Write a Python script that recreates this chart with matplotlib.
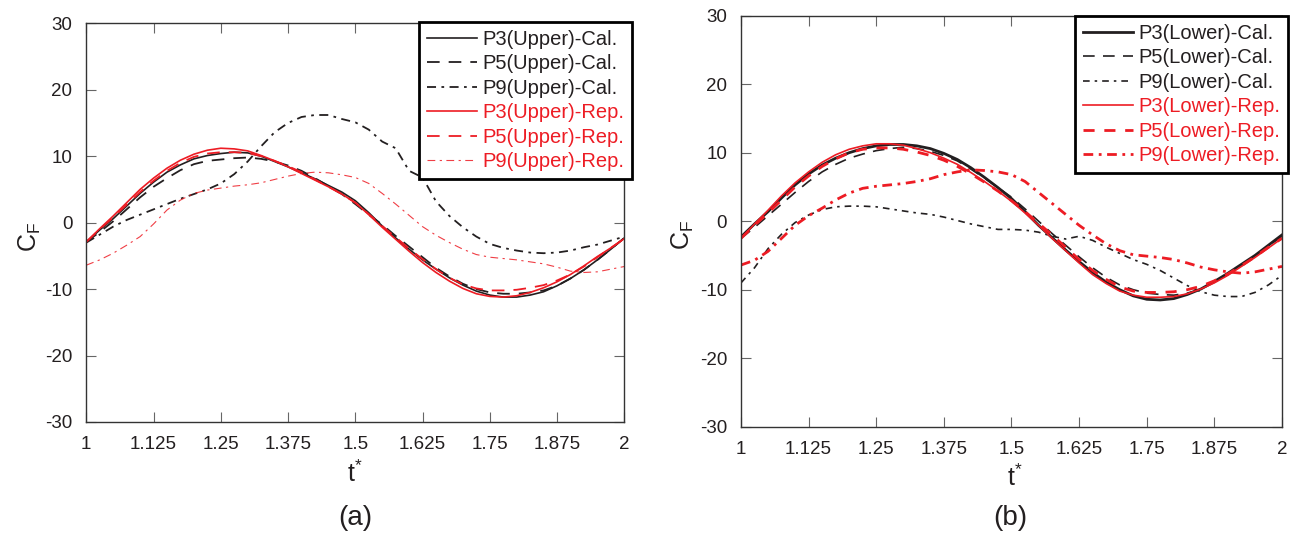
import numpy as np
import matplotlib
matplotlib.use("Agg")
import matplotlib.pyplot as plt

plt.rcParams['font.family'] = ['Liberation Sans', 'DejaVu Sans']
plt.rcParams['mathtext.fontset'] = 'custom'
plt.rcParams['mathtext.rm'] = 'Liberation Sans'
plt.rcParams['mathtext.it'] = 'Liberation Sans'
plt.rcParams['axes.unicode_minus'] = False

# ---------------- data ----------------
t = [1.000, 1.025, 1.050, 1.075, 1.100, 1.125, 1.150, 1.175, 1.200, 1.225,
     1.250, 1.275, 1.300, 1.325, 1.350, 1.375, 1.400, 1.425, 1.450, 1.475,
     1.500, 1.525, 1.550, 1.575, 1.600, 1.625, 1.650, 1.675, 1.700, 1.725,
     1.750, 1.775, 1.800, 1.825, 1.850, 1.875, 1.900, 1.925, 1.950, 1.975, 2.000]

# panel (a) - upper
a_p3_cal = [-2.9, -1.1, 0.6, 2.5, 4.4, 6.1, 7.6, 8.7, 9.6, 10.1,
            10.4, 10.6, 10.5, 10.0, 9.2, 8.4, 7.5, 6.6, 5.6, 4.6,
            3.3, 1.5, -0.5, -2.3, -4.0, -5.6, -7.0, -8.3, -9.4, -10.3,
            -10.9, -11.2, -11.2, -10.9, -10.4, -9.5, -8.4, -7.1, -5.6, -4.0, -2.3]
a_p5_cal = [-2.9, -1.4, 0.2, 2.0, 3.8, 5.4, 6.7, 7.9, 8.8, 9.3,
            9.5, 9.7, 9.8, 9.6, 9.2, 8.6, 7.8, 6.7, 5.5, 4.3,
            2.8, 1.2, -0.3, -2.0, -3.6, -5.2, -6.8, -8.1, -9.2, -10.0,
            -10.5, -10.7, -10.7, -10.5, -10.2, -9.5, -8.4, -7.1, -5.6, -4.0, -2.3]
a_p9_cal = [-3.0, -1.8, -0.6, 0.4, 1.2, 2.0, 2.8, 3.6, 4.3, 5.0,
            5.9, 7.3, 9.2, 11.5, 13.6, 15.0, 15.9, 16.2, 16.2, 15.6,
            15.1, 14.0, 12.2, 11.2, 7.8, 6.8, 3.2, 1.0, -0.7, -2.1,
            -3.2, -3.8, -4.2, -4.5, -4.6, -4.5, -4.2, -3.7, -3.3, -2.7, -2.1]
a_p3_rep = [-2.9, -0.9, 1.0, 3.0, 5.0, 6.7, 8.2, 9.4, 10.3, 10.9,
            11.2, 11.1, 10.8, 10.1, 9.3, 8.4, 7.4, 6.4, 5.4, 4.3,
            3.0, 1.2, -0.7, -2.5, -4.3, -6.0, -7.5, -8.8, -9.9, -10.7,
            -11.1, -11.2, -11.0, -10.5, -9.8, -8.9, -7.8, -6.5, -5.1, -3.8, -2.4]
a_p5_rep = [-2.9, -1.0, 0.8, 2.7, 4.6, 6.3, 7.8, 9.0, 9.9, 10.4,
            10.6, 10.6, 10.5, 10.0, 9.3, 8.5, 7.6, 6.5, 5.4, 4.3,
            3.0, 1.3, -0.5, -2.2, -3.9, -5.5, -7.0, -8.3, -9.3, -9.9,
            -10.2, -10.2, -10.1, -9.8, -9.4, -8.7, -7.8, -6.6, -5.2, -3.8, -2.4]
a_p9_rep = [-6.4, -5.6, -4.6, -3.4, -2.1, -0.2, 1.9, 3.4, 4.4, 4.9,
            5.2, 5.5, 5.7, 6.0, 6.5, 7.0, 7.4, 7.6, 7.5, 7.2,
            6.8, 5.9, 4.4, 2.8, 1.1, -0.6, -1.9, -3.0, -4.0, -4.8,
            -5.2, -5.4, -5.6, -5.9, -6.2, -6.7, -7.3, -7.5, -7.4, -7.0, -6.6]

# panel (b) - lower
b_p3_cal = [-2.3, -0.4, 1.4, 3.4, 5.3, 6.9, 8.2, 9.2, 10.0, 10.6,
            11.0, 11.2, 11.2, 11.0, 10.6, 9.9, 9.0, 7.8, 6.4, 4.9,
            3.3, 1.4, -0.6, -2.4, -4.2, -5.9, -7.5, -8.9, -10.0, -10.9,
            -11.4, -11.5, -11.3, -10.7, -9.9, -8.8, -7.6, -6.3, -5.0, -3.5, -2.0]
b_p5_cal = [-2.5, -0.9, 0.8, 2.5, 4.2, 5.8, 7.2, 8.3, 9.2, 9.8,
            10.3, 10.6, 10.8, 10.6, 10.2, 9.6, 8.8, 7.6, 6.3, 4.9,
            3.5, 1.8, 0.0, -1.8, -3.5, -5.2, -6.8, -8.2, -9.3, -10.0,
            -10.5, -10.7, -10.8, -10.5, -9.9, -8.9, -7.8, -6.5, -5.1, -3.6, -2.2]
b_p9_cal = [-9.0, -6.8, -4.0, -1.9, -0.2, 0.9, 1.7, 2.1, 2.2, 2.2,
            2.1, 1.8, 1.5, 1.2, 1.0, 0.6, 0.1, -0.4, -0.8, -1.2,
            -1.2, -1.3, -1.6, -2.2, -2.6, -2.2, -2.8, -3.8, -4.7, -5.6,
            -6.3, -7.2, -8.3, -9.4, -10.3, -10.8, -11.0, -11.0, -10.4, -9.3, -7.9]
b_p3_rep = [-2.5, -0.4, 1.6, 3.7, 5.6, 7.2, 8.6, 9.7, 10.5, 11.0,
            11.3, 11.3, 11.1, 10.6, 10.0, 9.2, 8.3, 7.1, 5.8, 4.4,
            2.9, 1.2, -0.6, -2.5, -4.3, -6.1, -7.8, -9.1, -10.2, -10.8,
            -11.1, -11.1, -11.0, -10.6, -9.9, -9.0, -7.9, -6.6, -5.3, -3.9, -2.5]
b_p5_rep = [-2.5, -0.6, 1.2, 3.1, 5.0, 6.6, 8.0, 9.1, 10.0, 10.5,
            10.7, 10.7, 10.5, 10.1, 9.6, 8.9, 8.0, 6.9, 5.7, 4.4,
            3.0, 1.4, -0.3, -2.0, -3.8, -5.6, -7.2, -8.5, -9.6, -10.2,
            -10.4, -10.4, -10.3, -10.0, -9.5, -8.7, -7.7, -6.5, -5.2, -3.8, -2.5]
b_p9_rep = [-6.4, -5.7, -4.4, -2.5, -0.6, 0.8, 1.9, 3.1, 4.1, 4.8,
            5.1, 5.3, 5.5, 5.8, 6.2, 6.8, 7.2, 7.5, 7.4, 7.2,
            6.8, 5.8, 4.2, 2.6, 1.0, -0.6, -2.0, -3.3, -4.3, -4.9,
            -5.1, -5.3, -5.6, -6.1, -6.7, -7.1, -7.4, -7.6, -7.4, -7.0, -6.6]

x_ticks = [1, 1.125, 1.25, 1.375, 1.5, 1.625, 1.75, 1.875, 2]
x_ticklabels = ['1', '1.125', '1.25', '1.375', '1.5', '1.625', '1.75', '1.875', '2']
y_ticks = [-30, -20, -10, 0, 10, 20, 30]
labels_a = ['P3(Upper)-Cal.', 'P5(Upper)-Cal.', 'P9(Upper)-Cal.',
            'P3(Upper)-Rep.', 'P5(Upper)-Rep.', 'P9(Upper)-Rep.']
labels_b = ['P3(Lower)-Cal.', 'P5(Lower)-Cal.', 'P9(Lower)-Cal.',
            'P3(Lower)-Rep.', 'P5(Lower)-Rep.', 'P9(Lower)-Rep.']

BLACK = '#231F20'
RED = '#ED1C24'

W, H = 1291, 534
fig = plt.figure(figsize=(W / 100, H / 100), dpi=100)

def px_axes(l, tp, r, b):
    return fig.add_axes([l / W, 1 - b / H, (r - l) / W, (b - tp) / H])

ax_a = px_axes(86.3, 23.3, 624.3, 422)
ax_b = px_axes(741, 15.7, 1282, 426.7)

DASH = (0, (7, 5))
DASHDOT = (0, (5, 3, 1.5, 3))

styles_a = [
    (a_p3_cal, dict(color=BLACK, lw=1.2, ls='-')),
    (a_p5_cal, dict(color=BLACK, lw=1.3, ls=DASH)),
    (a_p9_cal, dict(color=BLACK, lw=1.3, ls=DASHDOT)),
    (a_p3_rep, dict(color=RED, lw=1.2, ls='-')),
    (a_p5_rep, dict(color=RED, lw=1.3, ls=DASH)),
    (a_p9_rep, dict(color=RED, lw=0.8, ls=(0, (7, 4, 2, 4)), alpha=0.85)),
]
styles_b = [
    (b_p3_cal, dict(color=BLACK, lw=2.0, ls='-')),
    (b_p5_cal, dict(color=BLACK, lw=1.2, ls=(0, (7, 5)))),
    (b_p9_cal, dict(color=BLACK, lw=1.2, ls=(0, (4, 3, 1.5, 3)))),
    (b_p3_rep, dict(color=RED, lw=1.2, ls='-')),
    (b_p5_rep, dict(color=RED, lw=2.0, ls=(0, (4, 3.5)))),
    (b_p9_rep, dict(color=RED, lw=2.0, ls=(0, (3.5, 2, 1, 2)))),
]

def setup(ax, styles, labels, leg_anchor):
    handles = []
    for (yv, st), lab in zip(styles, labels):
        h, = ax.plot(t, yv, label=lab, **st)
        handles.append(h)
    ax.set_xlim(1, 2)
    ax.set_ylim(-30, 30)
    ax.set_xticks(x_ticks)
    ax.set_xticklabels(x_ticklabels)
    ax.set_yticks(y_ticks)
    ax.tick_params(direction='in', top=True, right=True, length=7, width=0.8,
                   color='#666666', labelsize=13.5, labelcolor=BLACK, pad=10)
    for s in ax.spines.values():
        s.set_color('#333333')
        s.set_linewidth(1.0)
    leg = ax.legend(handles=handles, loc='upper right',
                    bbox_to_anchor=leg_anchor, bbox_transform=fig.transFigure,
                    fontsize=14.5, frameon=True, fancybox=False, framealpha=1,
                    edgecolor='black', borderaxespad=0, handlelength=2.5,
                    handletextpad=0.25, labelspacing=0.27, borderpad=0.4)
    leg.get_frame().set_linewidth(2.0)
    for txt, (_, st) in zip(leg.get_texts(), styles):
        txt.set_color(st['color'])
    return leg

setup(ax_a, styles_a, labels_a, (632 / W, 1 - 22 / H))
setup(ax_b, styles_b, labels_b, (1288 / W, 1 - 16 / H))

# axis labels and captions
fig.text(30 / W, 1 - 237 / H, r'C$_\mathregular{F}$', fontsize=18, rotation=90,
         ha='center', va='center', color=BLACK)
fig.text(683 / W, 1 - 235 / H, r'C$_\mathregular{F}$', fontsize=18, rotation=90,
         ha='center', va='center', color=BLACK)
fig.text(355 / W, 1 - 474 / H, r't$^\mathregular{*}$', fontsize=18,
         ha='center', va='center', color=BLACK)
fig.text(1015 / W, 1 - 478 / H, r't$^\mathregular{*}$', fontsize=18,
         ha='center', va='center', color=BLACK)
fig.text(355 / W, 1 - 518 / H, '(a)', fontsize=20, ha='center', va='center', color=BLACK)
fig.text(1010 / W, 1 - 518 / H, '(b)', fontsize=20, ha='center', va='center', color=BLACK)

fig.savefig('out.png', dpi=100, facecolor='white')
